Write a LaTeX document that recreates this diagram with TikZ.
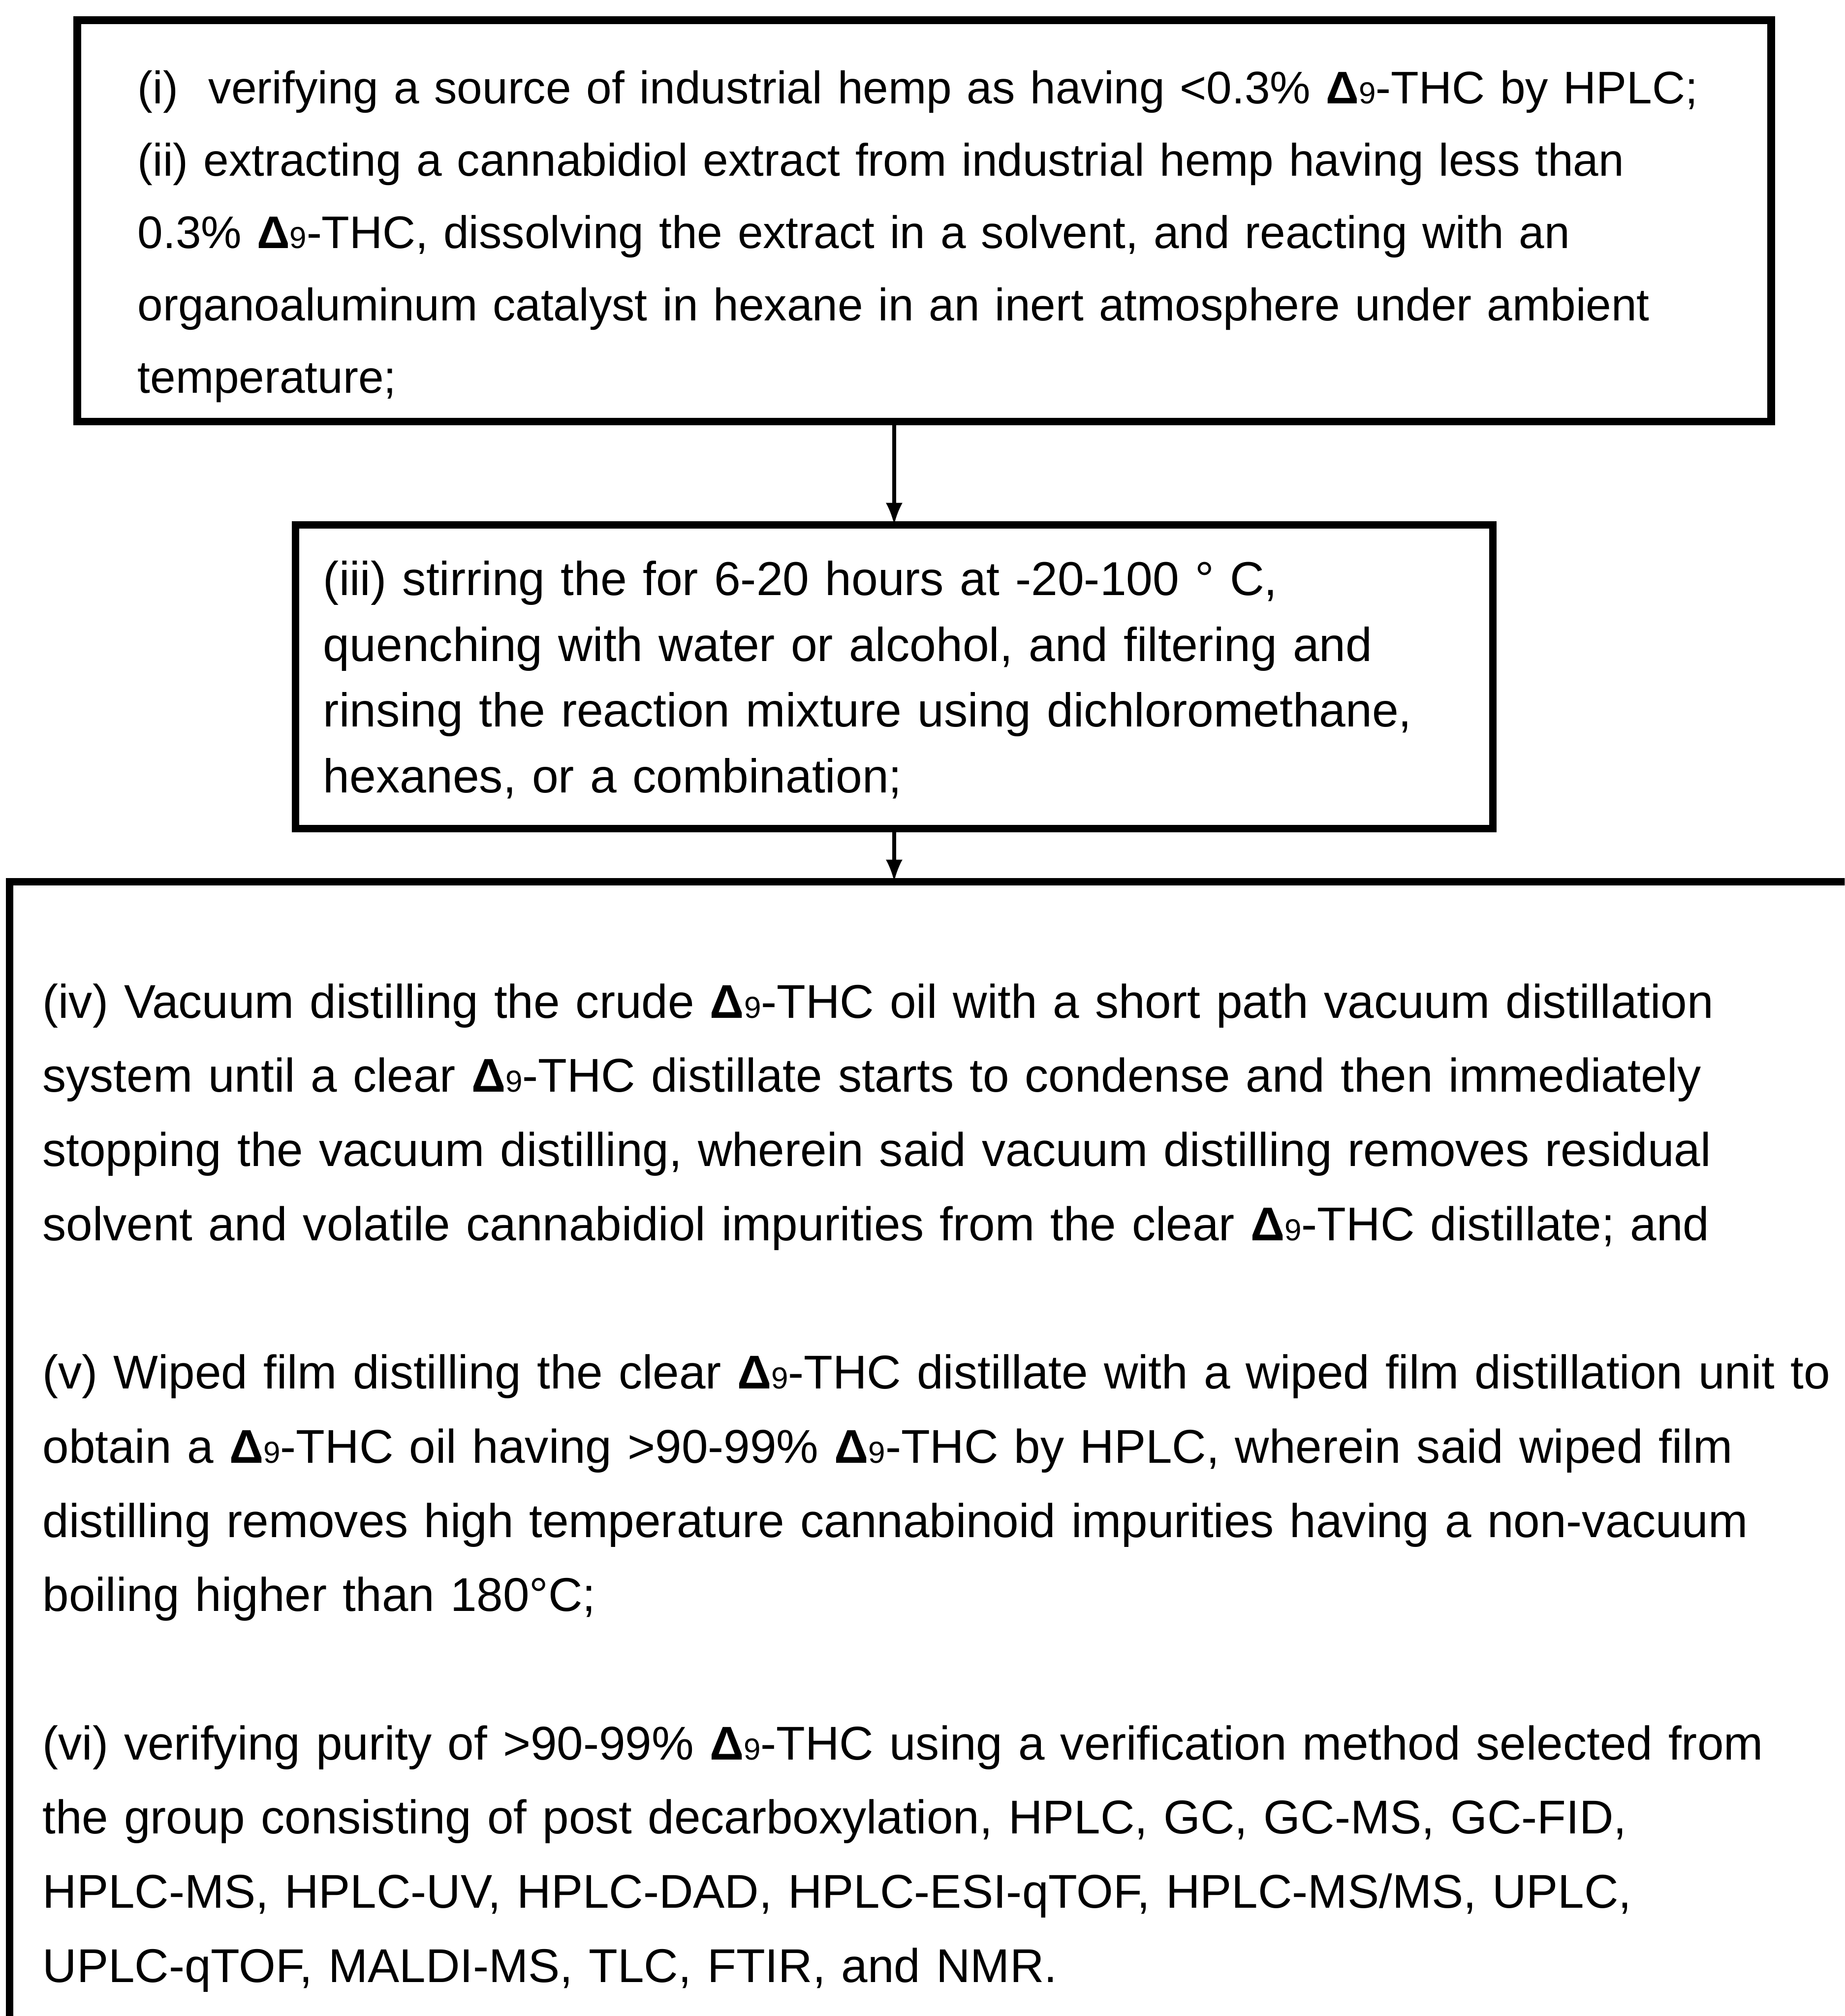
\documentclass[tikz,border=0pt]{standalone}
\usepackage{fontspec}
\setmainfont{Liberation Sans}
\newcommand{\dnine}{{\bfseries Δ}{\fontsize{8}{8}\selectfont 9}}

\begin{document}
\begin{tikzpicture}[
  x=1pt,
  y=1pt,
  stepbox/.style={
    draw,
    line width=2pt,
    outer sep=0pt,
    inner ysep=0pt,
    align=left,
    anchor=north west
  },
  flow/.style={
    -latex,
    line width=1pt
  }
]
  \useasboundingbox (0,0) rectangle (485,-530);
  \clip (0,0) rectangle (485,-530);
  \node[stepbox, inner xsep=15.9pt, text width=413.6pt,
    text height=22pt, text depth=83.5pt,
    font={\fontsize{12}{19}\selectfont}] (extract) at (20.3,-5.3)
    {(i)~ verifying a source of industrial hemp as having <0.3\% \dnine-THC by HPLC;\\
     (ii) extracting a cannabidiol extract from industrial hemp having less than\\
     0.3\% \dnine-THC, dissolving the extract in a solvent, and reacting with an\\
     organoaluminum catalyst in hexane in an inert atmosphere under ambient\\
     temperature;};
  \node[stepbox, inner xsep=7.3pt, text width=300.2pt,
    text height=18.5pt, text depth=61.3pt,
    font={\fontsize{12.5}{17.3}\selectfont}] (quench) at (77.7,-138)
    {(iii) stirring the for 6-20 hours at -20-100 ° C,\\
     quenching with water or alcohol, and filtering and\\
     rinsing the reaction mixture using dichloromethane,\\
     hexanes, or a combination;};
  \node[stepbox, inner xsep=8.7pt, text width=480pt,
    text height=35.8pt, text depth=300pt,
    font={\fontsize{12.45}{19.5}\selectfont}] (distill) at (2.5,-231.8)
    {(iv) Vacuum distilling the crude \dnine-THC oil with a short path vacuum distillation\\
     system until a clear \dnine-THC distillate starts to condense and then immediately\\
     stopping the vacuum distilling, wherein said vacuum distilling removes residual\\
     solvent and volatile cannabidiol impurities from the clear \dnine-THC distillate; and\\[19.5pt]
     (v) Wiped film distilling the clear \dnine-THC distillate with a wiped film distillation unit to\\
     obtain a \dnine-THC oil having >90-99\% \dnine-THC by HPLC, wherein said wiped film\\
     distilling removes high temperature cannabinoid impurities having a non-vacuum\\
     boiling higher than 180°C;\\[19.5pt]
     (vi) verifying purity of >90-99\% \dnine-THC using a verification method selected from\\
     the group consisting of post decarboxylation, HPLC, GC, GC-MS, GC-FID,\\
     HPLC-MS, HPLC-UV, HPLC-DAD, HPLC-ESI-qTOF, HPLC-MS/MS, UPLC,\\
     UPLC-qTOF, MALDI-MS, TLC, FTIR, and NMR.};
  \draw[flow] (extract.south -| quench.north) -- (quench.north);
  \draw[flow] (quench.south) -- (quench.south |- distill.north);
\end{tikzpicture}
\end{document}
